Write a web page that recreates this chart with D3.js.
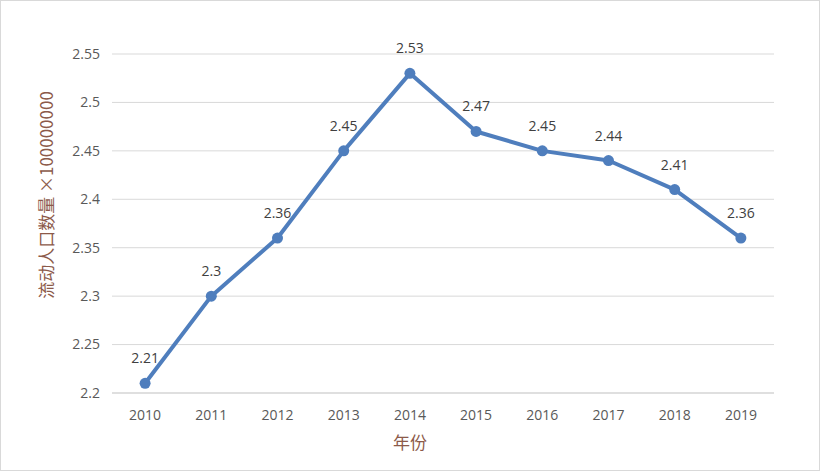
<!DOCTYPE html>
<html><head><meta charset="utf-8">
<script src="https://cdn.jsdelivr.net/npm/d3@7"></script>
<style>body{margin:0;background:#fff}</style>
</head><body><div class="canvas"></div>
<script>
var years = ['2010','2011','2012','2013','2014','2015','2016','2017','2018','2019'];
var values = [2.21,2.3,2.36,2.45,2.53,2.47,2.45,2.44,2.41,2.36];
var yTicks = [2.2,2.25,2.3,2.35,2.4,2.45,2.5,2.55];

var W = 820, H = 471;
var margin = {t:54,r:46,b:78,l:112};
var width = W - margin.l - margin.r, height = H - margin.t - margin.b;
var font = '"Noto Sans CJK SC","Open Sans",sans-serif';

var svg = d3.select('.canvas').append('svg').attr('width',W).attr('height',H);
svg.append('rect').attr('x',0.5).attr('y',0.5).attr('width',W-1).attr('height',H-1)
    .attr('fill','#fff').attr('stroke','#d9d9d9');

var canvas = svg.append('g').attr('transform','translate('+margin.l+','+margin.t+')');

var x = d3.scalePoint().domain(years).range([0,width]).padding(0.5);
var y = d3.scaleLinear().domain([2.2,2.55]).range([height,0]);

canvas.selectAll('.grid').data(yTicks).enter().append('line')
    .attr('x1',0).attr('x2',width)
    .attr('y1',function(d){return y(d);}).attr('y2',function(d){return y(d);})
    .attr('stroke',function(d){return d===2.2?'#bfbfbf':'#d9d9d9';});

canvas.selectAll('.yt').data(yTicks).enter().append('text')
    .attr('x',-12).attr('y',function(d){return y(d);}).attr('dy','0.35em')
    .attr('text-anchor','end').attr('font-family','Open Sans, sans-serif')
    .attr('font-size',14).attr('fill','#595959').text(function(d){return d;});

canvas.selectAll('.xt').data(years).enter().append('text')
    .attr('x',function(d){return x(d);}).attr('y',height+27)
    .attr('text-anchor','middle').attr('font-family','Open Sans, sans-serif')
    .attr('font-size',14).attr('fill','#595959').text(function(d){return d;});

var line = d3.line().x(function(d,i){return x(years[i]);}).y(function(d){return y(d);});
canvas.append('path').datum(values).attr('d',line).attr('fill','none')
    .attr('stroke','#4f7ebd').attr('stroke-width',4).attr('stroke-linejoin','round');

canvas.selectAll('.pt').data(values).enter().append('circle')
    .attr('cx',function(d,i){return x(years[i]);}).attr('cy',function(d){return y(d);})
    .attr('r',5.5).attr('fill','#4f7ebd');

canvas.selectAll('.lbl').data(values).enter().append('text')
    .attr('x',function(d,i){return x(years[i]);}).attr('y',function(d){return y(d)-20;})
    .attr('text-anchor','middle').attr('font-family','Open Sans, sans-serif')
    .attr('font-size',14).attr('fill','#404040').text(function(d){return d;});

svg.append('text').attr('x',410).attr('y',449).attr('text-anchor','middle')
    .attr('font-family',font).attr('font-size',17).attr('fill','#8c5a4a').text('年份');

svg.append('text').attr('transform','translate(53,195) rotate(-90)')
    .attr('text-anchor','middle').attr('font-family',font).attr('font-size',17)
    .attr('fill','#8c5a4a').text('流动人口数量 ×100000000');
</script>
</body></html>
